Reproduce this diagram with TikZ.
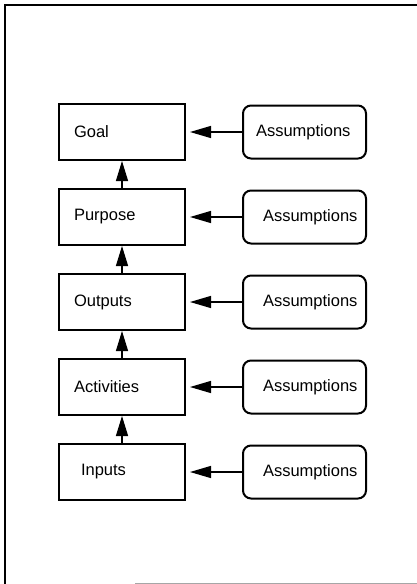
\documentclass[tikz,border=0pt]{standalone}
\usepackage{fontspec}
\setmainfont{Liberation Sans}
\usetikzlibrary{positioning,arrows.meta}
\tikzstyle{lvl} = [draw, line width=2pt, minimum height=56pt, text width=96pt, inner xsep=15pt, align=left, font=\fontsize{16.5}{19}\selectfont]
\begin{document}
\begin{tikzpicture}[x=1pt,y=-1pt,
			node distance=27pt and 56pt,
			asm/.style = {draw, line width=2pt, rounded corners=8pt, minimum height=53pt, text width=97pt, inner xsep=13pt, align=left, font=\fontsize{16.5}{19}\selectfont},
			up/.style = {line width=1.3pt, -{Triangle[length=20pt,width=12pt]}},
			left/.style = {line width=1.3pt, shorten >=4pt, -{Triangle[length=21pt,width=12pt]}}]
			\useasboundingbox (0,0) rectangle (417,584);
			% frame
			\draw[line width=1.2pt] (417,5) -- (5,5) -- (5,584);
			\draw[line width=1pt, black!35] (135,583) -- (417,583);
			
			\node (goal)[lvl] at (122,132) {Goal};
			\node (purpose)[lvl,below=of goal] {Purpose};
			\node (outputs)[lvl,below=of purpose] {Outputs};
			\node (activities)[lvl,below=of outputs] {Activities};
			\node (inputs)[lvl,below=of activities] {\hspace*{7pt}Inputs};
			
			\node (a1)[asm,right=of goal] {\mbox{Assumptions}};
			\node (a2)[asm,right=of purpose] {\mbox{\hspace*{7pt}Assumptions}};
			\node (a3)[asm,right=of outputs] {\mbox{\hspace*{7pt}Assumptions}};
			\node (a4)[asm,right=of activities] {\mbox{\hspace*{7pt}Assumptions}};
			\node (a5)[asm,right=of inputs] {\mbox{\hspace*{7pt}Assumptions}};
			
			\draw[up] (purpose) -- (goal);
			\draw[up] (outputs) -- (purpose);
			\draw[up] (activities) -- (outputs);
			\draw[up] (inputs) -- (activities);
			
			\draw[left] (a1) -- (goal);
			\draw[left] (a2) -- (purpose);
			\draw[left] (a3) -- (outputs);
			\draw[left] (a4) -- (activities);
			\draw[left] (a5) -- (inputs);
		\end{tikzpicture}
\end{document}
